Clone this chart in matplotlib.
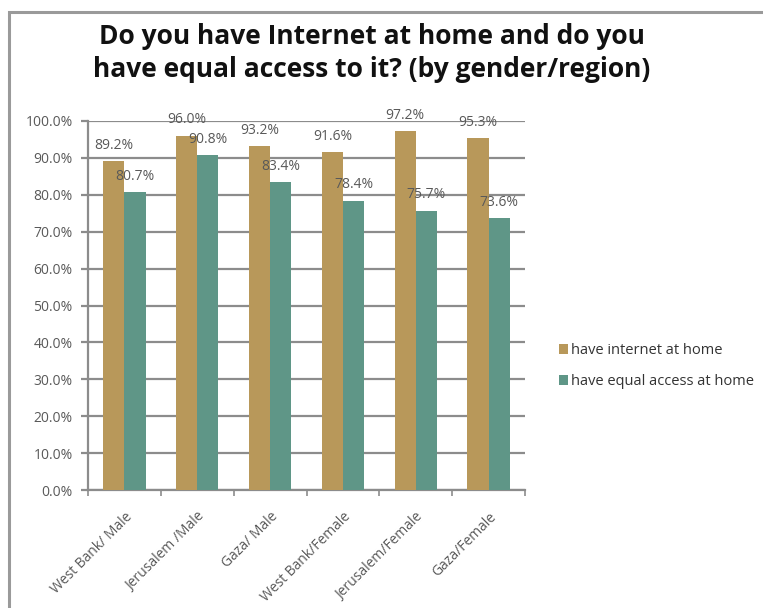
import numpy as np
import matplotlib.pyplot as plt
from matplotlib.patches import Rectangle

categories = ["West Bank/ Male", "Jerusalem /Male", "Gaza/ Male",
              "West Bank/Female", "Jerusalem/Female", "Gaza/Female"]
internet_home = [89.2, 96.0, 93.2, 91.6, 97.2, 95.3]
equal_access = [80.7, 90.8, 83.4, 78.4, 75.7, 73.6]
series_names = ["have internet at home", "have equal access at home"]

brown = "#B8985A"
teal = "#5F9687"
txt = "#595959"
plt.rcParams['font.family'] = ['Open Sans', 'DejaVu Sans']

fig = plt.figure(figsize=(7.63, 6.08), dpi=100)
fig.patch.set_facecolor("white")

# chart frame
fig.add_artist(Rectangle((9 / 763, -0.2), 1.2, 1.2 - 12 / 608,
                         transform=fig.transFigure, fill=False,
                         edgecolor="#9a9a9a", linewidth=2.2, clip_on=False))

ax = fig.add_axes([88 / 763, 1 - 490 / 608, 437 / 763, 369 / 608])
x = np.arange(len(categories))
w = 0.29
b1 = ax.bar(x - w / 2, internet_home, w, color=brown, label=series_names[0], zorder=3)
b2 = ax.bar(x + w / 2, equal_access, w, color=teal, label=series_names[1], zorder=3)

for bars, vals in ((b1, internet_home), (b2, equal_access)):
    for r, v in zip(bars, vals):
        ax.annotate(f"{v:.1f}%", (r.get_x() + r.get_width() / 2, v),
                    xytext=(0, 6), textcoords="offset points",
                    ha="center", va="bottom", fontsize=10, color=txt, zorder=4)

ax.set_xlim(-0.5, len(categories) - 0.5)
ax.set_ylim(0, 100)
ax.set_yticks(np.arange(0, 101, 10))
ax.set_yticklabels([f"{t:.1f}%" for t in range(0, 101, 10)], fontsize=10, color=txt)
ax.yaxis.grid(True, color="#8c8c8c", linewidth=1.6, zorder=0)
ax.tick_params(axis="y", length=5, width=1.6, color="#8c8c8c", pad=6)

ax.set_xticks(x)
ax.set_xticklabels(categories, rotation=45, ha="right", rotation_mode="anchor",
                   fontsize=10, color=txt)
ax.tick_params(axis="x", length=0, pad=14)
ax.set_xticks(np.arange(-0.5, len(categories)), minor=True)
ax.tick_params(axis="x", which="minor", length=4, width=1.2, color="#8c8c8c")

for s in ("top", "right"):
    ax.spines[s].set_visible(False)
for s in ("left", "bottom"):
    ax.spines[s].set_color("#8c8c8c")
    ax.spines[s].set_linewidth(1.6)

fig.text(0.487, 1 - 53 / 608, "Do you have Internet at home and do you\nhave equal access to it? (by gender/region)",
         ha="center", va="center", fontsize=19, fontweight="bold", color="#111111",
         linespacing=1.25)

leg = fig.legend(handles=[b1, b2], loc="upper left", bbox_to_anchor=(546 / 763, 1 - 330 / 608),
                 frameon=False, fontsize=10.5, handlelength=0.6, handleheight=0.6,
                 handletextpad=0.2, labelspacing=1.1, labelcolor="#333333")

fig.savefig("out.png", dpi=100, facecolor="white")
